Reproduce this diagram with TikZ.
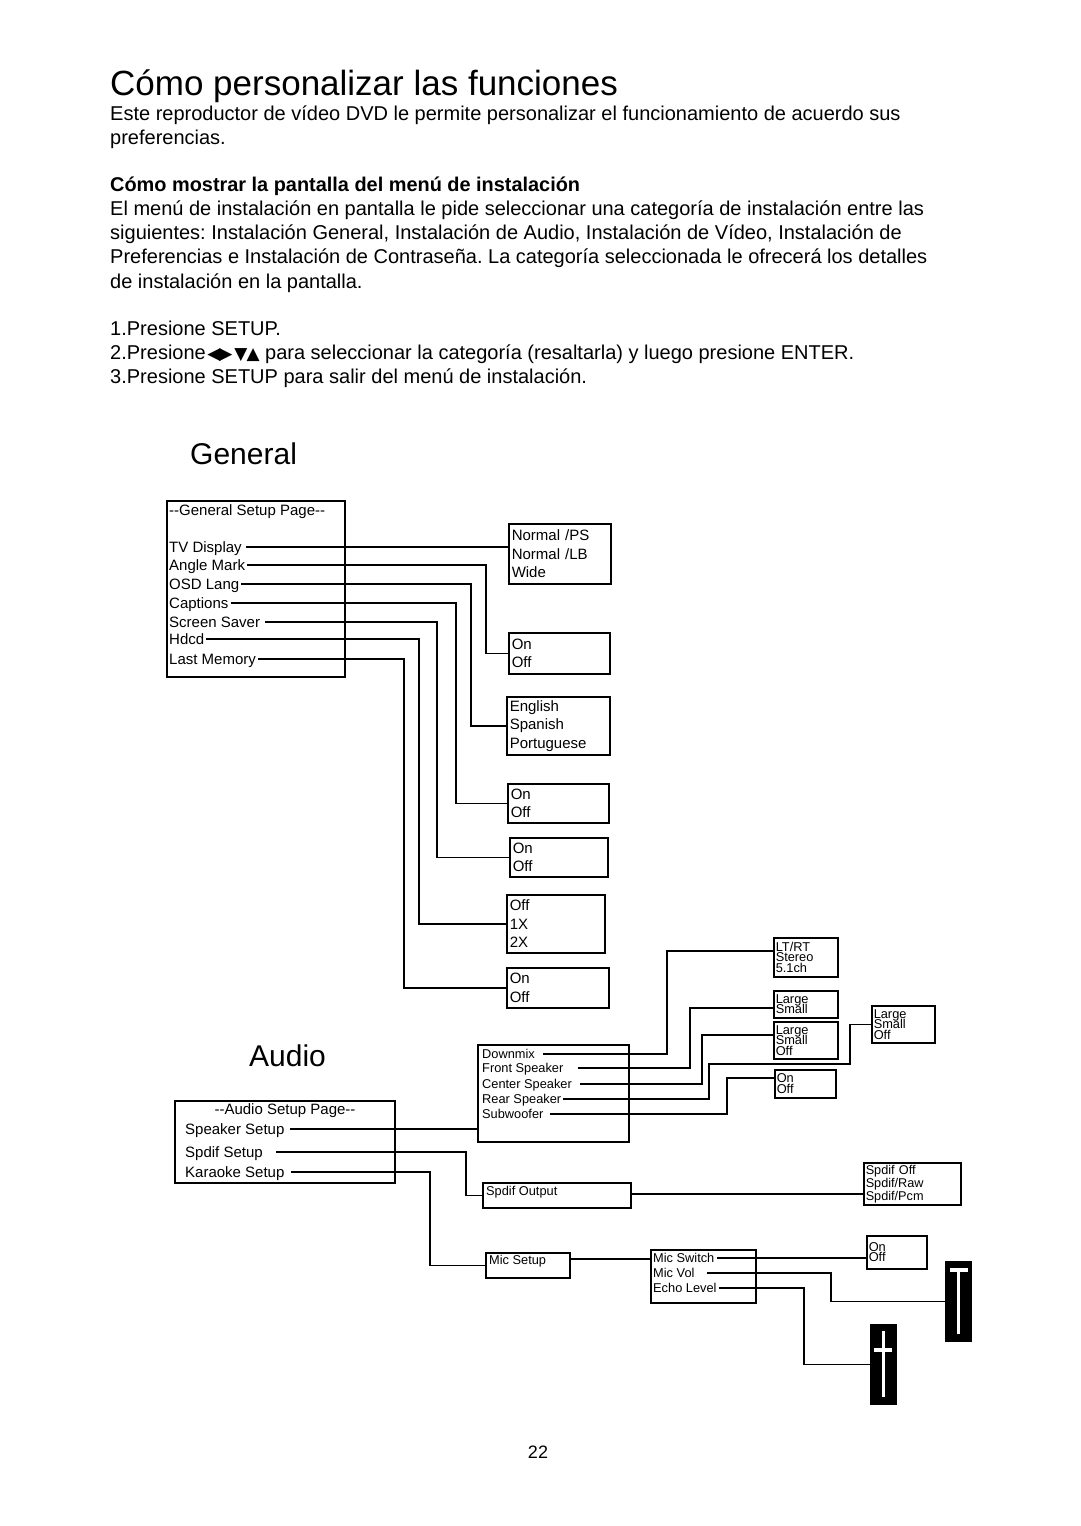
\documentclass[tikz,border=0pt]{standalone}
\usepackage{fontspec}
\setmainfont{Liberation Sans}
\newfontfamily\diagfont{Liberation Sans}
\newfontfamily\symfont{DejaVu Sans}
\newcommand\gfnt{\diagfont\fontsize{15}{18.5}\selectfont}
\newcommand\afnt{\diagfont\fontsize{15}{18}\selectfont}
\newcommand\sfnt{\diagfont\fontsize{12.8}{15}\selectfont}
\newcommand\tfnt{\diagfont\fontsize{12.8}{10.5}\selectfont\lineskiplimit=-20pt\relax}
\newcommand\pfnt{\diagfont\fontsize{12.7}{13}\selectfont\lineskiplimit=-20pt\relax}
\frenchspacing
\begin{document}
\frenchspacing
\begin{tikzpicture}[x=1pt,y=-1pt,
  body/.style={anchor=base west, inner sep=0pt, font=\fontsize{20}{24}\selectfont\frenchspacing},
  ln/.style={line width=1.5pt},
  bx/.style={draw, line width=1.5pt, anchor=north west, inner sep=0pt},
  gopt/.style={bx, inner xsep=3pt, align=left, font=\gfnt},
  sopt/.style={bx, inner xsep=2pt, align=left, font=\tfnt},
  gitm/.style={anchor=west, inner sep=2pt, text height=10.7pt, text depth=0pt, font=\gfnt},
  aitm/.style={anchor=west, inner sep=2pt, text height=10.7pt, text depth=0pt, font=\afnt},
  sitm/.style={anchor=west, inner sep=2pt, text height=9.2pt, text depth=0pt, font=\sfnt},
  slider/.style={fill=black, draw=none, anchor=north west, minimum width=27, minimum height=81, inner sep=0pt}]
\useasboundingbox[fill=white] (0,0) rectangle (1080,1526);

% ---------- text ----------
\node[anchor=base west, inner sep=0pt, font=\fontsize{35}{40}\selectfont] (title) at (110,95) {Cómo personalizar las funciones};
\node[body] (p1) at (110,120) {Este reproductor de vídeo DVD le permite personalizar el funcionamiento de acuerdo sus};
\node[body] (p2) at (110,144) {preferencias.};
\node[body, font=\fontsize{19.9}{24}\selectfont\bfseries] (h1) at (110,191) {Cómo mostrar la pantalla del menú de instalación};
\node[body] (p3) at (110,215) {El menú de instalación en pantalla le pide seleccionar una categoría de instalación entre las};
\node[body] (p4) at (110,239) {siguientes: Instalación General, Instalación de Audio, Instalación de Vídeo, Instalación de};
\node[body] (p5) at (110,263) {Preferencias e Instalación de Contraseña. La categoría seleccionada le ofrecerá los detalles};
\node[body] (p6) at (110,288) {de instalación en la pantalla.};
\node[body] (s1) at (110,335) {1.Presione SETUP.};
\node[body] (s2) at (110,359) {2.Presione\kern1.5pt{\symfont\fontsize{17}{17}\selectfont ◀\kern-1pt▶\kern2pt▼\kern-1pt▲} para seleccionar la categoría (resaltarla) y luego presione ENTER.};
\node[body] (s3) at (110,383) {3.Presione SETUP para salir del menú de instalación.};

\node[anchor=base west, inner sep=0pt, font=\fontsize{30}{34}\selectfont] (gen) at (190,464) {General};
\node[anchor=base west, inner sep=0pt, font=\fontsize{30}{34}\selectfont] (aud) at (249,1066) {Audio};
\node[anchor=mid, inner sep=0pt, font=\fontsize{18}{20}\selectfont] (pg) at (538,1456) {22};

% ---------- General ----------
\node[bx, minimum width=178, minimum height=176] (gbox) at (166,500) {};
\node[gitm] (gtitle) at (167,510) {--General Setup Page--};
\node[gitm] (tv) at (167,547) {TV Display};
\node[gitm] (am) at (167,565) {Angle Mark};
\node[gitm] (osd) at (167,584) {OSD Lang};
\node[gitm] (cap) at (167,603) {Captions};
\node[gitm] (ss) at (167,622) {Screen Saver};
\node[gitm] (hd) at (167,639) {Hdcd};
\node[gitm] (lm) at (167,659) {Last Memory};

\node[gopt, minimum width=102, minimum height=60, text width=96] (nb) at (508,523) {Normal /PS\\Normal /LB\\Wide};
\node[gopt, minimum width=101, minimum height=41, text width=95] (o1) at (508,632) {On\\Off};
\node[gopt, minimum width=103, minimum height=58, text width=97] (en) at (506,696) {English\\Spanish\\Portuguese};
\node[gopt, minimum width=101, minimum height=39, text width=95] (o2) at (507,783) {On\\Off};
\node[gopt, minimum width=98, minimum height=39, text width=92] (o3) at (509,837) {On\\Off};
\node[gopt, minimum width=98, minimum height=58, text width=92] (x2) at (506,894) {Off\\1X\\2X};
\node[gopt, minimum width=102, minimum height=40, text width=96] (o5) at (506,967) {On\\Off};

\draw[ln] ([xshift=2]tv.east) -- (tv.east -| nb.west);
\draw[ln] (am.east) -| ([xshift=-22]o1.west) -- (o1.west);
\draw[ln] (osd.east) -| ([xshift=-35]en.west) -- (en.west);
\draw[ln] (cap.east) -| ([xshift=-51]o2.west) -- (o2.west);
\draw[ln] ([xshift=3]ss.east) -| ([xshift=-72]o3.west) -- (o3.west);
\draw[ln] (hd.east) -| ([xshift=-87]x2.west) -- (x2.west);
\draw[ln] (lm.east) -| ([xshift=-102]o5.west) -- (o5.west);

% ---------- Audio ----------
\node[bx, minimum width=220, minimum height=82] (abox) at (174,1100) {};
\node[aitm, anchor=center, inner sep=0pt] (atitle) at (285,1109) {--Audio Setup Page--};
\node[aitm] (sp) at (183,1129) {Speaker Setup};
\node[aitm] (sd) at (183,1152) {Spdif Setup};
\node[aitm] (ks) at (183,1172) {Karaoke Setup};

\node[bx, minimum width=151, minimum height=97] (spk) at (477,1044) {};
\node[sitm] (dm) at (480,1054) {Downmix};
\node[sitm] (fs) at (480,1068) {Front Speaker};
\node[sitm] (cs) at (480,1084) {Center Speaker};
\node[sitm] (rs) at (480,1099) {Rear Speaker};
\node[sitm] (sw) at (480,1114) {Subwoofer};

\node[sopt, minimum width=64, minimum height=39, text width=60] (lt) at (773,937) {LT/RT\\Stereo\\5.1ch};
\node[sopt, minimum width=64, minimum height=27, text width=60] (ls) at (773,990) {Large\\Small};
\node[sopt, minimum width=64, minimum height=37, text width=60] (lso) at (773,1021) {Large\\Small\\Off};
\node[sopt, minimum width=61, minimum height=28, text width=57] (oo) at (774,1069) {On\\Off};
\node[sopt, minimum width=63, minimum height=37, text width=59] (rlso) at (871,1005) {Large\\Small\\Off};

\coordinate (rsA) at (709,1064);
\coordinate (rsB) at (850,1064);

\draw[ln] ([xshift=3]sp.east) -- (sp.east -| spk.west);
\draw[ln] ([xshift=6]dm.east) -| ([xshift=-106,yshift=6.5]lt.west) -- ([yshift=6.5]lt.west);
\draw[ln] ([xshift=12]fs.east) -| ([xshift=-83,yshift=-3.5]ls.west) -- ([yshift=-3.5]ls.west);
\draw[ln] ([xshift=6]cs.east) -| ([xshift=-71,yshift=5.5]lso.west) -- ([yshift=5.5]lso.west);
\draw[ln] (rs.east) -| (rsA) -- (rsB) |- (rlso.west);
\draw[ln] ([xshift=4]sw.east) -| ([xshift=-47,yshift=6]oo.west) -- ([yshift=6]oo.west);

% Spdif
\node[bx, minimum width=148, minimum height=25] (so) at (482,1182) {};
\node[sitm] (sot) at (484,1191) {Spdif Output};
\node[sopt, font=\pfnt, minimum width=97, minimum height=42, text width=93] (sp3) at (863,1162) {Spdif Off\\Spdif/Raw\\Spdif/Pcm};
\draw[ln] ([xshift=11]sd.east) -| ([xshift=-16]so.west) -- (so.west);
\draw[ln] ([yshift=1.5]so.east) -- ([yshift=1.5]so.east -| sp3.west);

% Karaoke
\node[bx, minimum width=84, minimum height=25] (ms) at (485,1252) {};
\node[sitm] (mst) at (487,1260) {Mic Setup};
\node[bx, minimum width=105, minimum height=53] (mb) at (650,1249) {};
\node[sitm] (msw) at (651,1258) {Mic Switch};
\node[sitm] (mv) at (651,1273) {Mic Vol};
\node[sitm] (el) at (651,1288) {Echo Level};
\node[sopt, minimum width=60, minimum height=33, text width=56] (oo2) at (866,1235) {On\\Off};

\node[slider] (sl1) at (945,1261) {};
\fill[white] ([xshift=-8.5,yshift=-7]sl1.north) rectangle ([xshift=9.5,yshift=-11]sl1.north);
\fill[white] ([xshift=-1.7,yshift=-7]sl1.north) rectangle ([xshift=0.8,yshift=-73]sl1.north);
\node[slider] (sl2) at (870,1324) {};
\fill[white] ([xshift=-1.7,yshift=-7]sl2.north) rectangle ([xshift=0.8,yshift=-73]sl2.north);
\fill[white] ([xshift=-9.5,yshift=-24]sl2.north) rectangle ([xshift=8.5,yshift=-28]sl2.north);

\draw[ln] ([xshift=4]ks.east) -| ([xshift=-55]ms.west) -- (ms.west);
\draw[ln] ([yshift=6.5]ms.east) -- ([yshift=6.5]ms.east -| mb.west);
\draw[ln] (msw.east) -- (msw.east -| oo2.west);
\draw[ln] ([xshift=10]mv.east) -| ([xshift=-114]sl1.west) -- (sl1.west);
\draw[ln] (el.east) -| ([xshift=-66]sl2.west) -- (sl2.west);
\end{tikzpicture}
\end{document}
